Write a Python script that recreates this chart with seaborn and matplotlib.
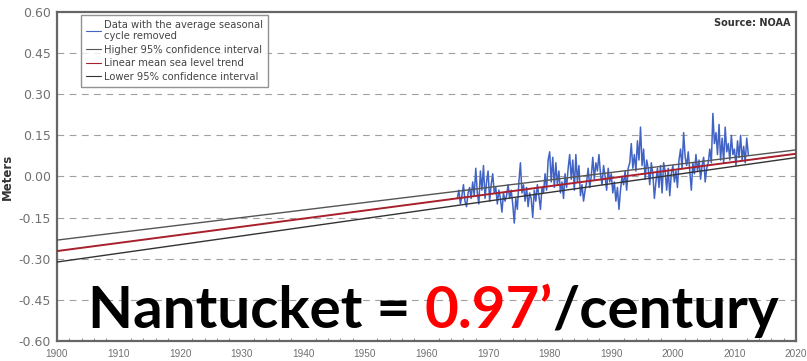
import numpy as np
import pandas as pd
import matplotlib
matplotlib.use("Agg")
import matplotlib.pyplot as plt
import seaborn as sns

# ---- data ----
start_year = 1965.0
step = 0.25  # quarterly samples
sea_level = [
    -0.08, -0.05, -0.10, -0.07,
    -0.03, -0.09, -0.11, -0.06,
    -0.04, -0.08, -0.02, -0.07,
    0.03, -0.06, -0.10, 0.02,
    -0.05, 0.04, -0.08, -0.02,
    0.02, -0.09, -0.03, 0.01,
    -0.06, -0.04, -0.10, -0.05,
    -0.08, -0.13, -0.06, -0.09,
    -0.07, -0.03, -0.08, -0.05,
    -0.10, -0.17, -0.08, -0.12,
    -0.02, 0.05, -0.06, -0.03,
    -0.09, -0.04, -0.11, -0.06,
    -0.08, -0.15, -0.05, -0.09,
    -0.03, -0.07, -0.12, -0.04,
    -0.06, 0.01, -0.05, 0.06,
    0.09, -0.02, 0.07, -0.04,
    0.05, -0.03, 0.02, -0.06,
    -0.02, -0.08, 0.01, -0.04,
    0.03, 0.08, -0.01, 0.06,
    -0.05, 0.08, -0.02, 0.04,
    -0.07, -0.03, -0.09, -0.05,
    -0.02, 0.03, -0.04, 0.00,
    0.07, -0.01, 0.05, 0.02,
    0.08, 0.01, -0.03, 0.04,
    0.00, -0.05, 0.03, -0.02,
    0.01, -0.06, -0.02, -0.09,
    -0.04, -0.12, -0.05, 0.00,
    -0.03, 0.02, -0.05, 0.03,
    0.05, 0.12, 0.03, 0.08,
    0.02, 0.13, 0.06, 0.18,
    0.04, 0.10, -0.01, 0.06,
    0.03, -0.03, 0.05, 0.01,
    -0.08, -0.02, 0.03, -0.04,
    0.04, -0.06, 0.05, 0.02,
    -0.05, 0.03, -0.07, 0.01,
    0.04, -0.02, 0.02, -0.04,
    0.06, 0.10, 0.03, 0.16,
    0.07, 0.04, 0.09, 0.02,
    -0.05, 0.05, 0.01, 0.08,
    0.02, 0.06, -0.01, 0.04,
    0.07, -0.02, 0.03, 0.05,
    0.10, 0.05, 0.23, 0.12,
    0.16, 0.08, 0.19, 0.06,
    0.14, 0.05, 0.18, 0.09,
    0.12, 0.06, 0.15, 0.08,
    0.10, 0.04, 0.13, 0.07,
    0.15, 0.06, 0.11, 0.05,
    0.14, 0.08,
]
trend_years = [1900, 2020]
trend_mean = [-0.272, 0.083]
trend_upper = [-0.232, 0.097]
trend_lower = [-0.312, 0.069]

y_ticks = [0.60, 0.45, 0.30, 0.15, 0.00, -0.15, -0.30, -0.45, -0.60]
x_ticks = list(range(1900, 2021, 10))

legend_labels = [
    "Data with the average seasonal\ncycle removed",
    "Higher 95% confidence interval",
    "Linear mean sea level trend",
    "Lower 95% confidence interval",
]

data_years = start_year + step * np.arange(len(sea_level))
df_data = pd.DataFrame({"year": data_years, "level": sea_level})
df_trend = pd.DataFrame({"year": trend_years, "mean": trend_mean,
                         "upper": trend_upper, "lower": trend_lower})

sns.set_style("white")
plt.rcParams["font.family"] = ["DejaVu Sans"]

fig = plt.figure(figsize=(8.07, 3.61), dpi=100)
ax = fig.add_axes([0.0706, 0.0554, 0.9158, 0.9114])

sns.lineplot(data=df_data, x="year", y="level", ax=ax, color="#4163c4",
             lw=1.1, label=legend_labels[0], zorder=2)
sns.lineplot(data=df_trend, x="year", y="upper", ax=ax, color="#555555",
             lw=1.0, label=legend_labels[1], zorder=3)
sns.lineplot(data=df_trend, x="year", y="mean", ax=ax, color="#a8202c",
             lw=1.4, label=legend_labels[2], zorder=3)
sns.lineplot(data=df_trend, x="year", y="lower", ax=ax, color="#333333",
             lw=1.0, label=legend_labels[3], zorder=3)

ax.set_xlim(1900, 2020)
ax.set_ylim(-0.60, 0.60)
ax.set_yticks(y_ticks)
ax.set_yticklabels([f"{v:.2f}" for v in y_ticks])
ax.set_xticks(x_ticks)
ax.set_xticklabels([str(v) for v in x_ticks])
ax.set_xticks(np.arange(1900, 2021, 2), minor=True)
ax.tick_params(axis="y", which="major", labelsize=9, labelcolor="#707070",
               direction="inout", length=7, width=1, color="#666666", pad=1)
ax.tick_params(axis="x", which="major", labelsize=7.2, labelcolor="#707070",
               direction="inout", length=6, width=1, color="#666666", pad=3)
ax.tick_params(axis="x", which="minor", direction="in", length=2, width=0.6,
               color="#777777", bottom=True)
for lab in ax.get_xticklabels():
    lab.set_family(["Liberation Sans", "DejaVu Sans"])
ax.set_xlabel("")
ax.set_ylabel("Meters", fontsize=8.5, fontweight="bold", color="#333333", labelpad=3)

for v in y_ticks[1:-1]:
    ax.axhline(v, color="#a0a0a0", lw=0.8, ls=(0, (6, 5)), zorder=0)

for s in ax.spines.values():
    s.set_color("#666666")
    s.set_linewidth(1.6)

handles, labels = ax.get_legend_handles_labels()
leg = ax.legend(handles, labels,
                loc="upper left", bbox_to_anchor=(0.033, 0.992), fontsize=7.2,
                frameon=True, fancybox=False, edgecolor="#777777",
                handlelength=1.5, handletextpad=0.3, borderpad=0.5,
                labelspacing=0.35, labelcolor="#444444", borderaxespad=0)
leg.get_frame().set_linewidth(1.0)
for line in leg.get_lines():
    line.set_linewidth(0.8)

ax.text(0.993, 0.982, "Source: NOAA", transform=ax.transAxes, ha="right",
        va="top", fontsize=7, fontweight="bold", color="#333333")

big = dict(fontsize=42, fontweight="bold", family=["Lato", "DejaVu Sans"])
t1 = fig.text(88 / 807, 1 - 328 / 361, "Nantucket = ", color="black",
              va="baseline", ha="left", **big)
t2 = ax.annotate("0.97\u2019", xy=(1, 0), xycoords=t1, va="bottom", ha="left",
                 color="#ff0000", **big)
t3 = ax.annotate("/century", xy=(1, 0), xycoords=t2, va="bottom", ha="left",
                 color="black", **big)

fig.savefig("out.png", dpi=100)
